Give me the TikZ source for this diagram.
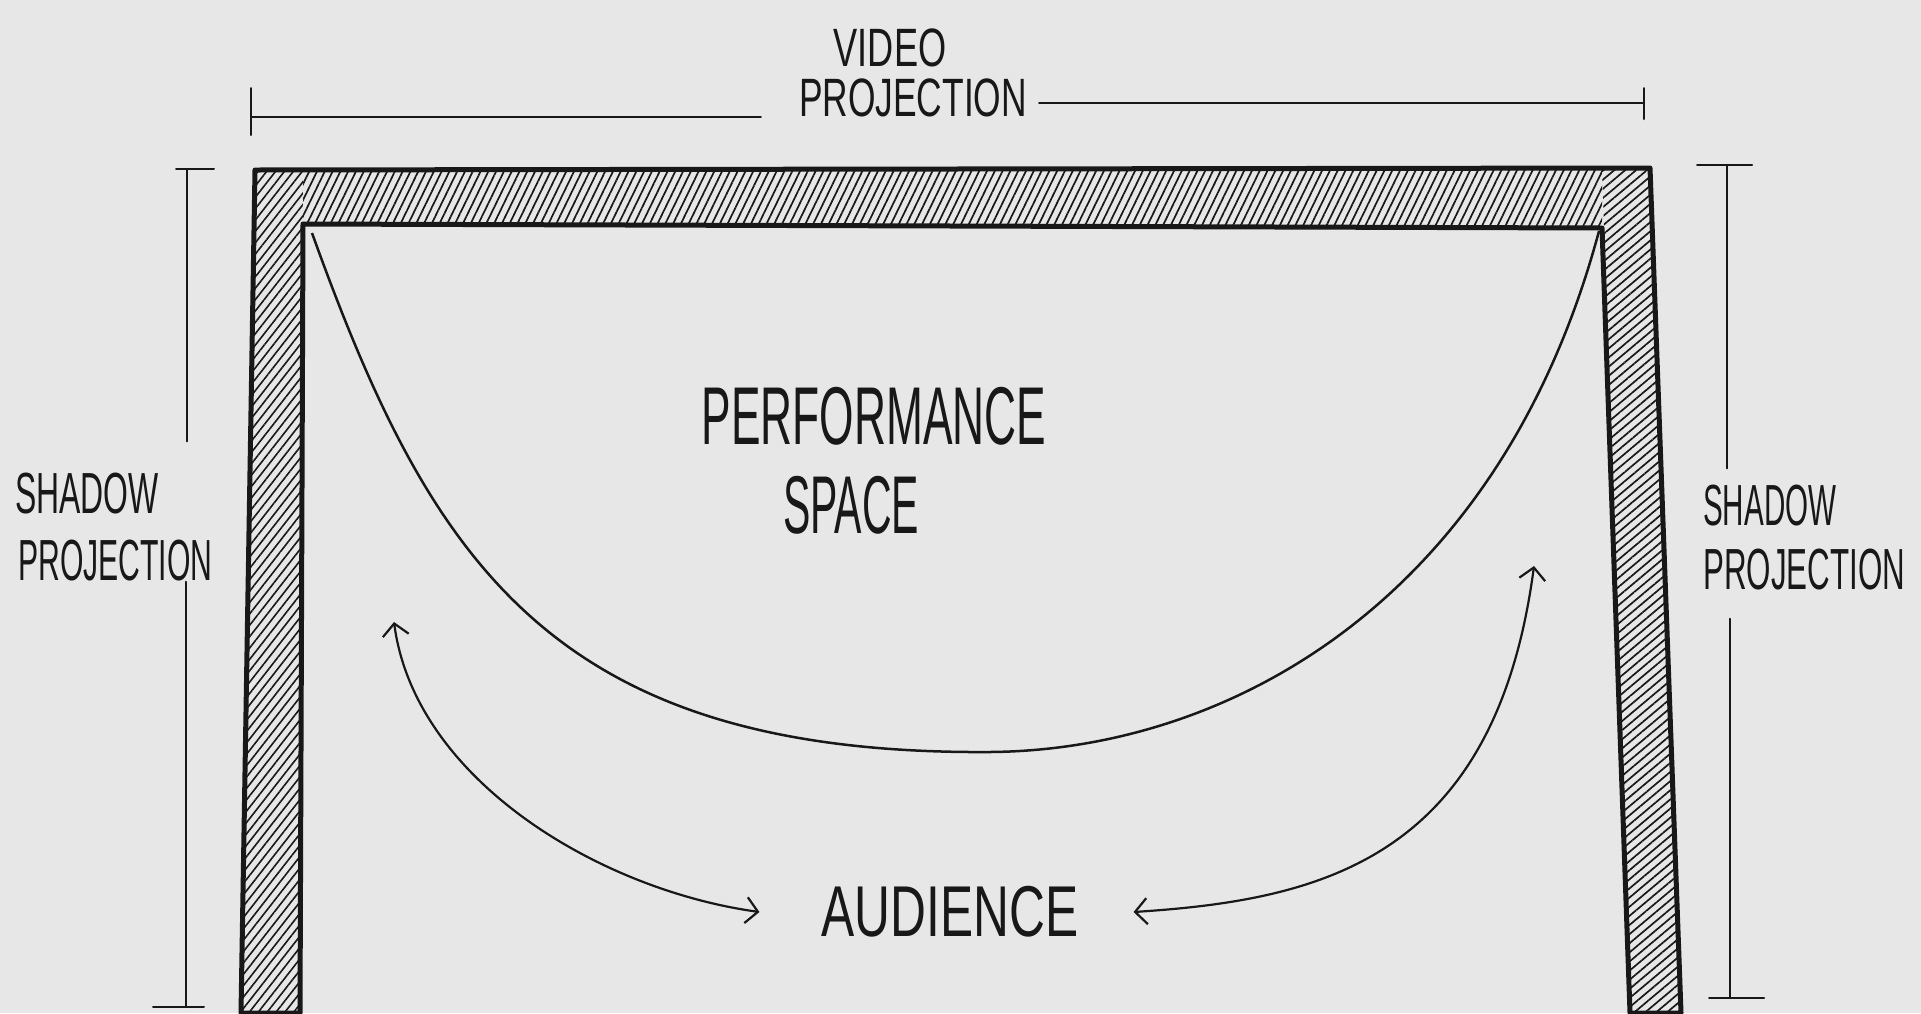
\documentclass[tikz,border=0pt]{standalone}
\usepackage{fontspec}
\usepackage{graphicx}
\setmainfont{Liberation Sans}
\usetikzlibrary{arrows.meta,patterns.meta,calc}
\definecolor{paper}{RGB}{231,231,231}
\definecolor{ink}{RGB}{24,24,24}
\newcommand\hw[3]{{\fontsize{#1}{#1}\selectfont\scalebox{#2}[1]{#3}}}
\begin{document}
\begin{tikzpicture}[x=1pt,y=-1pt,
  lbl/.style={inner sep=0pt, text=ink},
  dimline/.style={draw=ink, line width=2pt, line cap=round},
  wall/.style={draw=ink, line width=5pt, line join=round},
  hatchA/.style={pattern={Lines[angle=64,distance=7pt,line width=1.7pt]}, pattern color=ink},
  hatchB/.style={pattern={Lines[angle=52,distance=7pt,line width=1.6pt]}, pattern color=ink},
  hatchC/.style={pattern={Lines[angle=40,distance=7pt,line width=1.7pt]}, pattern color=ink},
  harr/.style={draw=ink, line width=2.2pt, {Straight Barb[length=12pt,width=26pt]}-{Straight Barb[length=12pt,width=26pt]}},
  stage/.style={draw=ink, line width=2.5pt},
  ]
\fill[paper] (0,0) rectangle (1921,1013);
\useasboundingbox (0,0) rectangle (1921,1013);

% ---- hatched walls
\fill[hatchA] (303,170) -- (1602,168) -- (1602,228) -- (303,224) -- cycle;
\fill[hatchB] (255,170) -- (303,170) -- (300,1013) -- (241,1013) -- cycle;
\fill[hatchC] (1602,168) -- (1650,168) -- (1681,1013) -- (1630,1013) -- cycle;
\draw[wall] (241,1013) -- (255,170) -- (1650,168) -- (1681,1013) -- (1630,1013)
  -- (1602,228) -- (303,224) -- (300,1013) -- cycle;

% ---- labels
\node[lbl] (vidA) at (890,48) {\hw{54}{0.67}{VIDEO}};
\node[lbl] (vidB) at (913,98) {\hw{54}{0.655}{PROJECTION}};
\node[lbl, anchor=west] (shL1) at (15,494) {\hw{58}{0.55}{SHADOW}};
\node[lbl, anchor=west] (shL2) at (18,561) {\hw{58}{0.52}{PROJECTION}};
\node[lbl, anchor=west] (shR1) at (1703,506) {\hw{58}{0.51}{SHADOW}};
\node[lbl, anchor=west] (shR2) at (1703,570) {\hw{58}{0.54}{PROJECTION}};
\node[lbl] (perf) at (874,416) {\hw{82}{0.54}{PERFORMANCE}};
\node[lbl] (space) at (851,505) {\hw{82}{0.50}{SPACE}};
\node[lbl] (aud) at (950,912) {\hw{72}{0.69}{AUDIENCE}};

% ---- top dimension (video projection)
\coordinate (tdl) at (251,117);
\coordinate (tdr) at (1644,103);
\draw[dimline] (251,88) -- (251,135);
\draw[dimline] (1644,88) -- (1644,119);
\draw[dimline, shorten >=38pt] (tdl) -- (tdl -| vidB.west);
\draw[dimline, shorten <=12pt] (tdr -| vidB.east) -- (tdr);

% ---- left dimension (shadow projection)
\coordinate (dlt) at (187,169);
\coordinate (dlb) at (186,1007);
\draw[dimline] (176,169) -- (214,169);
\draw[dimline] (153,1007) -- (204,1007);
\draw[dimline, shorten >=32pt] (dlt) -- (dlt |- shL1.north);
\draw[dimline] (dlb |- shL2.south) -- (dlb);

% ---- right dimension (shadow projection)
\coordinate (drt) at (1727,165);
\coordinate (drb) at (1730,998);
\draw[dimline] (1697,165) -- (1752,165);
\draw[dimline] (1709,998) -- (1764,998);
\draw[dimline, shorten >=17pt] (drt) -- (drt |- shR1.north);
\draw[dimline, shorten <=28pt] (drb |- shR2.south) -- (drb);

% ---- stage edge
\draw[stage] (312,233) .. controls (430,560) and (550,755) .. (990,752)
  .. controls (1230,750) and (1500,600) .. (1599,231);

% ---- audience arrows
\coordinate (la) at (394,622);
\coordinate (ra) at (1534,566);
\draw[harr] (la) .. controls (415,780) and (600,890) .. ([xshift=-62pt]aud.west);
\draw[harr] (ra) .. controls (1495,860) and (1320,900) .. ([xshift=55pt]aud.east);
\end{tikzpicture}
\end{document}
